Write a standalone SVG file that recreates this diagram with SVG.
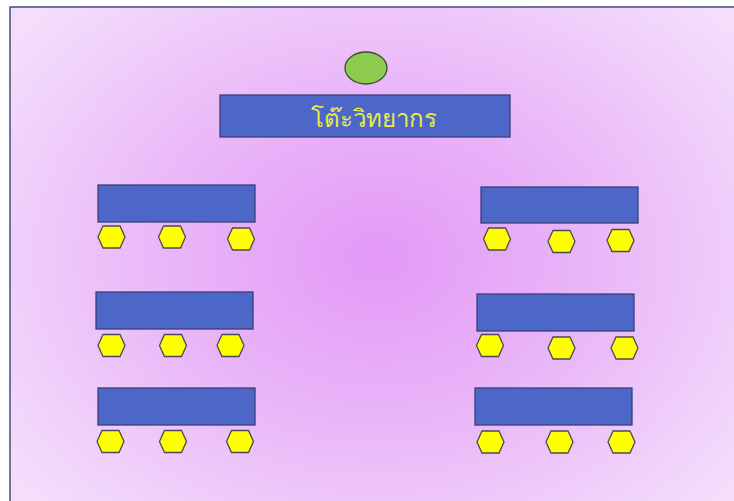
<svg xmlns="http://www.w3.org/2000/svg" width="734" height="501" viewBox="0 0 734 501">
  <defs>
    <radialGradient id="floor" cx="378" cy="258" r="460" gradientUnits="userSpaceOnUse" gradientTransform="translate(378 258) scale(1 0.78) translate(-378 -258)">
      <stop offset="0" stop-color="#e399f7"/>
      <stop offset="0.45" stop-color="#e9b5f8"/>
      <stop offset="1" stop-color="#f4defb"/>
    </radialGradient>
    <polygon id="seat" points="-13.5,0 -8.5,-11 8.5,-11 13.5,0 8.5,11 -8.5,11"/>
  </defs>
  <style>
    .desk { fill: #4d67c8; stroke: #3a3f7a; stroke-width: 1.3; }
    .chair { fill: #ffff00; stroke: #4a4a55; stroke-width: 1.3; }
    .label { font-family: "Noto Sans", "DejaVu Sans", sans-serif; font-size: 24px; fill: #e6ec4a; text-anchor: middle; }
  </style>

  <!-- room -->
  <rect x="0" y="0" width="734" height="501" fill="#ffffff"/>
  <rect x="10" y="7" width="740" height="510" fill="url(#floor)" stroke="#3f4f80" stroke-width="1.5"/>

  <!-- speaker seat and table -->
  <g id="speaker-seat">
    <ellipse cx="366" cy="68" rx="21" ry="16" fill="#8dcb4e" stroke="#3c4a3c" stroke-width="1.3"/>
  </g>
  <g id="speaker-table">
    <rect class="desk" x="220" y="95" width="290" height="42"/>
    <text class="label" x="374" y="127">โต๊ะวิทยากร</text>
  </g>

  <!-- left column -->
  <g id="desk-left-1">
    <rect class="desk" x="98" y="185" width="157" height="37"/>
    <use href="#seat" class="chair" x="111.5" y="237"/>
    <use href="#seat" class="chair" x="172" y="237"/>
    <use href="#seat" class="chair" x="241" y="239"/>
  </g>
  <g id="desk-left-2">
    <rect class="desk" x="96" y="292" width="157" height="37"/>
    <use href="#seat" class="chair" x="111.5" y="345.5"/>
    <use href="#seat" class="chair" x="173" y="345.5"/>
    <use href="#seat" class="chair" x="230.5" y="345.5"/>
  </g>
  <g id="desk-left-3">
    <rect class="desk" x="98" y="388" width="157" height="37"/>
    <use href="#seat" class="chair" x="110.5" y="441.5"/>
    <use href="#seat" class="chair" x="173" y="441.5"/>
    <use href="#seat" class="chair" x="240" y="441.5"/>
  </g>

  <!-- right column -->
  <g id="desk-right-1">
    <rect class="desk" x="481" y="187" width="157" height="36"/>
    <use href="#seat" class="chair" x="497" y="239"/>
    <use href="#seat" class="chair" x="561.5" y="241.5"/>
    <use href="#seat" class="chair" x="620.5" y="240.5"/>
  </g>
  <g id="desk-right-2">
    <rect class="desk" x="477" y="294" width="157" height="37"/>
    <use href="#seat" class="chair" x="490" y="345.5"/>
    <use href="#seat" class="chair" x="561.5" y="348"/>
    <use href="#seat" class="chair" x="624.5" y="348"/>
  </g>
  <g id="desk-right-3">
    <rect class="desk" x="475" y="388" width="157" height="37"/>
    <use href="#seat" class="chair" x="490.5" y="442"/>
    <use href="#seat" class="chair" x="559.5" y="442"/>
    <use href="#seat" class="chair" x="621.5" y="442"/>
  </g>

  <g id="connectors"/>
</svg>
